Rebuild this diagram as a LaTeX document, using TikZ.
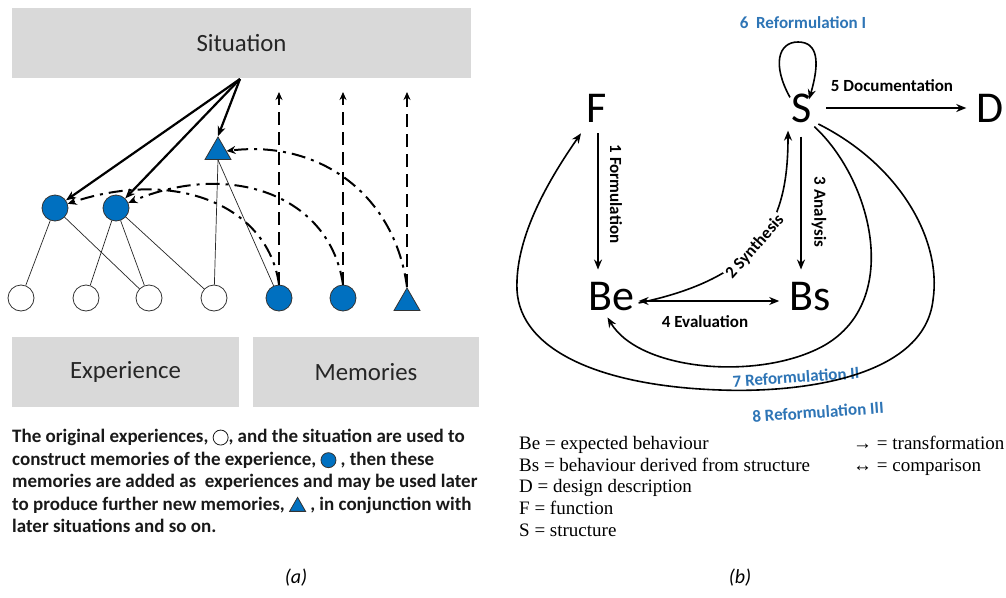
\documentclass[tikz,border=0pt]{standalone}
\usepackage{fontspec}
\setmainfont{Carlito}
\newfontfamily\legfont{Liberation Serif}
\usetikzlibrary{arrows.meta,shapes.geometric}
\definecolor{boxgray}{HTML}{D9D9D9}
\definecolor{memblue}{HTML}{0070C0}
\definecolor{lblblue}{HTML}{2E75B6}
\tikzset{
  graybox/.style={fill=boxgray, draw=none, inner sep=0, font=\fontsize{24.8}{28}\selectfont, text=black!85},
  expnode/.style={circle, draw=black!80, line width=0.8pt, fill=white, minimum size=26pt, inner sep=0},
  memnode/.style={expnode, fill=memblue},
  trinode/.style={regular polygon, regular polygon sides=3, draw=black!80, line width=0.8pt, fill=memblue, minimum size=30pt, inner sep=0},
  thinline/.style={line width=0.7pt, black!85},
  thickarr/.style={line width=2.2pt, -{Stealth[length=10pt,width=8pt]}},
  dasharr/.style={line width=2pt, dash pattern=on 13pt off 7pt, -{Stealth[length=8pt,width=7pt]}},
  dotarr/.style={line width=2pt, dash pattern=on 14pt off 6pt on 3pt off 6pt, -{Stealth[length=9pt,width=8pt]}},
  bigletter/.style={font=\fontsize{44}{48}\selectfont, inner sep=0},
  farr/.style={line width=1.6pt, -{Stealth[length=10pt,width=8pt]}},
  blab/.style={font=\bfseries\fontsize{17}{20}\selectfont, inner sep=1pt},
  bluelab/.style={font=\bfseries\fontsize{17}{20}\selectfont, text=lblblue, inner sep=1pt},
  legtext/.style={anchor=north west, align=left, inner sep=0, font=\legfont\fontsize{19}{21.8}\selectfont},
}
\begin{document}
\begin{tikzpicture}[x=1pt,y=-1pt]
\useasboundingbox[fill=white] (0,0) rectangle (1006,597);

% ---------- (a) ----------
\node[graybox, minimum width=459pt, minimum height=70pt] (sit) at (241.5,43) {Situation};
\node[graybox, minimum width=227pt, minimum height=70pt] (expb) at (125.5,372) {Experience};
\node[graybox, minimum width=226pt, minimum height=70pt] (memb) at (366,372) {Memories};

\node[memnode] (c1) at (55,208) {};
\node[memnode] (c2) at (116,208) {};
\node[trinode] (t1) at (218,152) {};

\node[expnode] (w1) at (21,298) {};
\node[expnode] (w2) at (86,298) {};
\node[expnode] (w3) at (149,298) {};
\node[expnode] (w4) at (214,298) {};
\node[memnode] (b1) at (279,298) {};
\node[memnode] (b2) at (343,298) {};
\node[trinode] (t2) at (407,303) {};

\draw[thinline] (c1) -- (w1);
\draw[thinline] (c1) -- (w3);
\draw[thinline] (c2) -- (w2);
\draw[thinline] (c2) -- (w3);
\draw[thinline] (c2) -- (w4);
\draw[thinline] (t1.south) -- (w4);
\draw[thinline] (t1.south) -- (b1);

\coordinate (src) at (240,79);
\draw[thickarr] (src) -- (c1);
\draw[thickarr] (src) -- (c2);
\draw[thickarr] (src) -- (t1.north);

\coordinate (d1) at (279,92);
\coordinate (d2) at (343,92);
\coordinate (d3) at (407,92);
\draw[dasharr] (b1.north) -- (d1);
\draw[dasharr] (b2.north) -- (d2);
\draw[dasharr] (t2.north) -- (d3);

\draw[dotarr] (b1.north) .. controls (268,205) and (175,168) .. (c1);
\draw[dotarr] (b2.north) .. controls (330,195) and (230,160) .. (c2);
\draw[dotarr] (t2.north) .. controls (395,195) and (320,140) .. (t1);

\node[anchor=north west, align=left, inner sep=0, font=\bfseries\fontsize{19}{22.6}\selectfont, text=black!90] (txta) at (12,429)
{The original experiences, \tikz[baseline=-5pt]\draw[line width=0.8pt,fill=white] (0pt,0pt) circle[radius=7.5pt];, and the situation are used to\\
construct memories of the experience, \tikz[baseline=-5pt]\draw[line width=0.8pt,fill=memblue,draw=black!80] (0pt,0pt) circle[radius=7.5pt]; , then these\\
memories are added as\ \ experiences and may be used later\\
to produce further new memories, \tikz[baseline=0pt]\draw[line width=0.8pt,fill=memblue,draw=black!80] (0pt,-1pt)--(16pt,-1pt)--(8pt,13pt)--cycle; , in conjunction with\\
later situations and so on.};

\node[font=\itshape\fontsize{20}{24}\selectfont] (capa) at (296,578) {(a)};
\node[font=\itshape\fontsize{20}{24}\selectfont] (capb) at (740,578) {(b)};

% ---------- (b) ----------
\node[bigletter] (F) at (597,108) {F};
\node[bigletter] (S) at (802,108) {S};
\node[bigletter] (D) at (990,108) {D};
\node[bigletter] (Be) at (611.5,297) {Be};
\node[bigletter] (Bs) at (810,297) {Bs};

% 1 Formulation
\draw[farr, shorten <=11pt, shorten >=13pt] ([xshift=1pt]F.south) -- ([xshift=1pt]F.south |- Be.north);
\node[blab, rotate=-90] (l1) at (616,194) {1 Formulation};
% 3 Analysis
\draw[farr, shorten <=14pt, shorten >=13pt] ([xshift=-1pt]S.south) -- ([xshift=-1pt]S.south |- Bs.north);
\node[blab, rotate=-90] (l3) at (819,212) {3 Analysis};
% 2 Synthesis
\draw[farr] ([xshift=4pt,yshift=-6pt]Be.east) .. controls (768,276) and (788,215) .. ([xshift=-14pt,yshift=-8pt]S.south)
  node[blab, sloped, fill=white, pos=0.45] (l2) {2 Synthesis};
% 4 Evaluation
\draw[line width=1.6pt, {Stealth[length=10pt,width=8pt]}-{Stealth[length=10pt,width=8pt]}, shorten <=4pt, shorten >=10pt] ([yshift=-4pt]Be.east) -- ([yshift=-4pt]Bs.west);
\node[blab] (l4) at (705,322) {4 Evaluation};
% 5 Documentation
\draw[farr, shorten <=14pt, shorten >=10pt] (S.east) -- (D.west);
\node[blab] (l5) at (892,86) {5 Documentation};
% 6 self loop
\draw[farr] ([xshift=-12pt,yshift=-4pt]S.north) .. controls (772,65) and (778,42) .. (798,42) .. controls (818,42) and (820,62) .. ([xshift=7pt,yshift=-6pt]S.north);
\node[bluelab] (l6) at (803,23) {6\ \ Reformulation I};
% 7 Reformulation II
\draw[farr] ([xshift=2pt,yshift=-4pt]S.south east) .. controls (872,180) and (902,300) .. (825,345) .. controls (762,381) and (640,372) .. ([xshift=-4pt,yshift=-6pt]Be.south);
\node[bluelab, rotate=4] (l7) at (796,377) {7 Reformulation II};
% 8 Reformulation III
\draw[farr] ([xshift=6pt,yshift=-16pt]S.east) .. controls (900,165) and (942,240) .. (933,300) .. controls (924,378) and (800,393) .. (720,390) .. controls (600,386) and (520,350) .. (517,290) .. controls (515,240) and (545,185) .. ([xshift=-16pt,yshift=-11pt]F.south);
\node[bluelab, rotate=4] (l8) at (818,412) {8 Reformulation III};

% legend
\node[legtext] (leg) at (519,436)
{Be = expected behaviour\\
Bs = behaviour derived from structure\\
D = design description\\
F = function\\
S = structure};
\node[legtext] (leg2) at (853,436)
{→ = transformation\\
↔ = comparison};
\end{tikzpicture}
\end{document}
